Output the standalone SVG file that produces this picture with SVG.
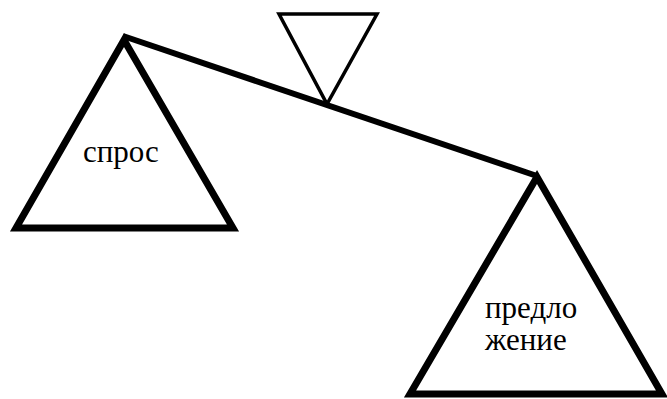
<svg xmlns="http://www.w3.org/2000/svg" width="667" height="399" viewBox="0 0 667 399">
<style>
.pan{fill:none;stroke:#000;stroke-width:7;stroke-linejoin:miter}
.beam{fill:none;stroke:#000;stroke-width:6}
.piv{fill:none;stroke:#000;stroke-width:3.5}
.t{font-family:"Liberation Serif",serif;font-size:31px;fill:#000}
</style>
<rect width="667" height="399" fill="#fff"/>
<g id="connectors">
<line class="beam" x1="123" y1="36" x2="537" y2="176"/>
</g>
<g id="pivot">
<polygon class="piv" points="279,14 377,14 327,104"/>
</g>
<g id="demand">
<polygon class="pan" points="124,40 16,228 233,228"/>
<text class="t" x="83" y="162">спрос</text>
</g>
<g id="supply">
<polygon class="pan" points="537,177 410,394 662,394"/>
<text class="t" x="485" y="318">предло</text>
<text class="t" x="485" y="350">жение</text>
</g>
</svg>
